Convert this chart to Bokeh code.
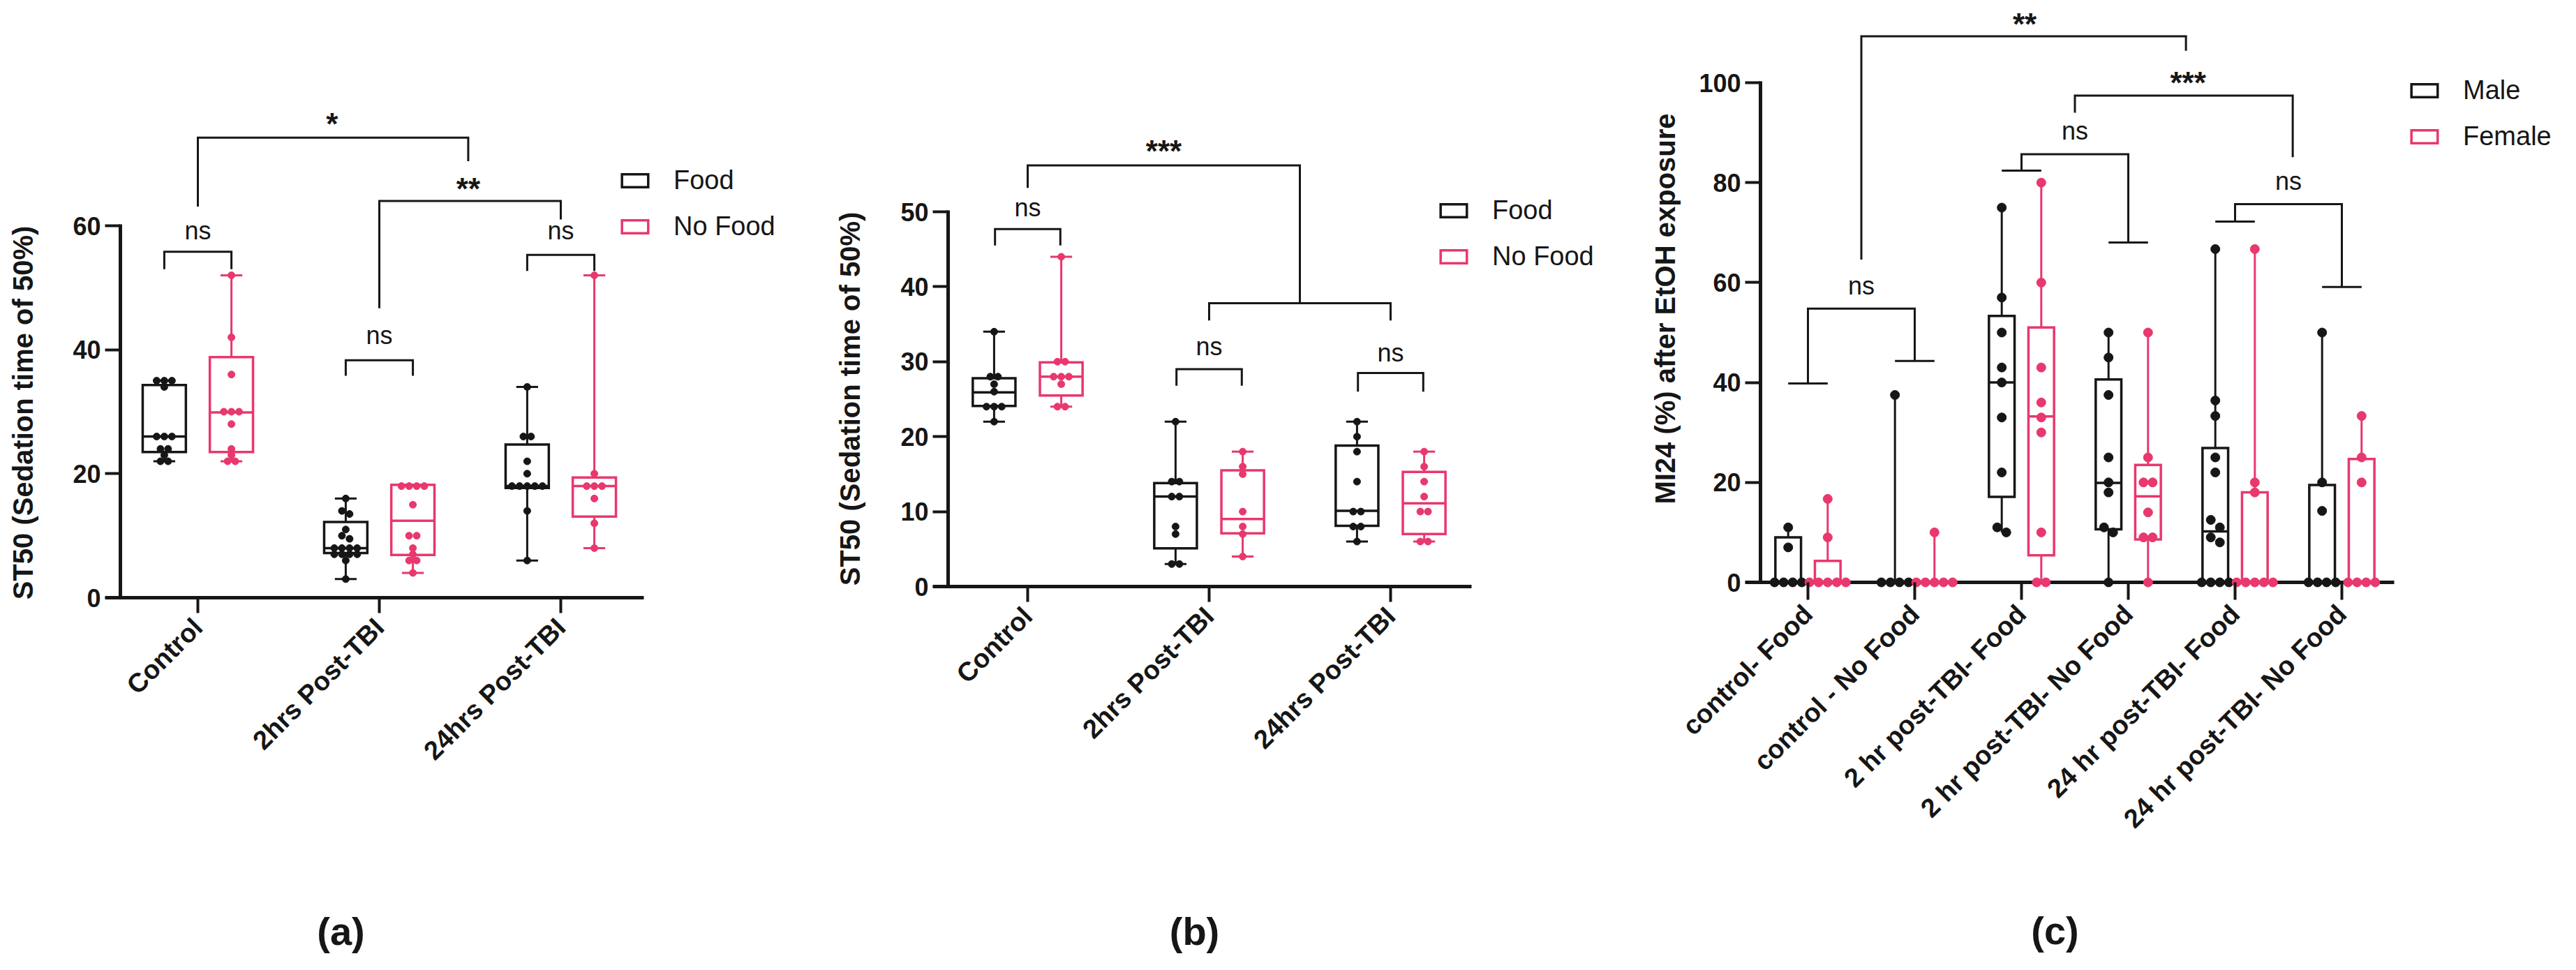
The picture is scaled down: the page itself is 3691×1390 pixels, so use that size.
import numpy as np
from math import pi
from bokeh.plotting import figure
from bokeh.layouts import row
from bokeh.models import FixedTicker, Label, Legend, LegendItem, Range1d, ColumnDataSource
from bokeh.core.properties import value
from bokeh.embed import file_html
from bokeh.resources import INLINE

FONT = "Liberation Sans"
BLACK = "#161616"
PINK = "#e8386d"
H = 1372
FT, FB = 8, 867   # common frame top / bottom (page px); Bokeh aligns the frames of a row

# ---------------- Panel (a) data ----------------
a_categories = ["Control", "2hrs Post-TBI", "24hrs Post-TBI"]
a_series = ["Food", "No Food"]
a_food_points = [
    [35, 35, 35, 34, 26, 26, 26, 24, 24, 23, 22, 22],
    [16, 14, 13.5, 11, 10, 9.5, 8, 8, 8, 8, 7, 7, 7, 7, 6, 3],
    [34, 26, 26, 22, 20, 18, 18, 18, 18, 18, 14, 6],
]
a_food_q1 = [23.5, 7.2, 17.7]
a_food_median = [26.0, 8.0, 18.0]
a_food_q3 = [34.3, 12.2, 24.7]
a_nofood_points = [
    [52, 42, 36, 30, 30, 30, 28, 24, 23, 22, 22],
    [18, 18, 18, 18, 15, 10, 10, 8, 7, 6, 6, 4],
    [52, 20, 18, 18, 18, 16, 12, 8],
]
a_nofood_q1 = [23.5, 6.9, 13.1]
a_nofood_median = [29.9, 12.4, 18.0]
a_nofood_q3 = [38.8, 18.2, 19.4]
a_yticks = [0, 20, 40, 60]

# ---------------- Panel (b) data ----------------
b_categories = ["Control", "2hrs Post-TBI", "24hrs Post-TBI"]
b_series = ["Food", "No Food"]
b_food_points = [
    [34, 28, 28, 27, 26, 24, 24, 24, 22],
    [22, 14, 14, 12, 12, 8, 7, 3, 3],
    [22, 20, 18, 14, 10, 10, 8, 8, 6],
]
b_food_q1 = [24.1, 5.1, 8.1]
b_food_median = [25.9, 12.0, 10.1]
b_food_q3 = [27.8, 13.8, 18.8]
b_nofood_points = [
    [44, 30, 30, 28, 28, 28, 27, 24, 24],
    [18, 16, 15, 10, 8, 7, 4],
    [18, 16, 14, 12, 10, 10, 6, 6],
]
b_nofood_q1 = [25.5, 7.1, 7.0]
b_nofood_median = [28.0, 9.0, 11.1]
b_nofood_q3 = [29.9, 15.5, 15.3]
b_yticks = [0, 10, 20, 30, 40, 50]

# ---------------- Panel (c) data ----------------
c_categories = ["control- Food", "control - No Food", "2 hr post-TBI- Food",
                "2 hr post-TBI- No Food", "24 hr post-TBI- Food", "24 hr post-TBI- No Food"]
c_series = ["Male", "Female"]
c_male_points = [
    [11, 7, 0, 0, 0, 0],
    [37.5, 0, 0, 0, 0],
    [75, 57, 50, 43, 40, 33, 22, 11, 10],
    [50, 45, 37.5, 25, 20, 18, 11, 10, 0],
    [66.7, 36.4, 33.3, 25, 22, 12.5, 11, 9, 8, 0, 0, 0, 0],
    [50, 20, 14.3, 0, 0, 0, 0],
]
c_male_q1 = [0, 0, 17.1, 10.6, 0, 0]
c_male_median = [0, 0, 40.0, 19.9, 10.2, 0]
c_male_q3 = [9.0, 0, 53.3, 40.6, 26.9, 19.5]
c_female_points = [
    [16.7, 9, 0, 0, 0, 0, 0],
    [10, 0, 0, 0, 0, 0],
    [80, 60, 43, 36, 33, 30, 10, 0, 0],
    [50, 25, 20, 20, 14, 9, 9, 0],
    [66.7, 20, 18, 0, 0, 0, 0, 0],
    [33.3, 25, 20, 0, 0, 0, 0],
]
c_female_q1 = [0, 0, 5.4, 8.6, 0, 0]
c_female_median = [0, 0, 33.2, 17.2, 0, 0]
c_female_q3 = [4.3, 0, 51.0, 23.5, 18.0, 24.7]
c_yticks = [0, 20, 40, 60, 80, 100]

# significance annotations: (x_left, y_left_end, x_right, y_right_end, y_top, caps)
a_brackets = [(-0.185, 53.0, 0.185, 53.0, 55.8, False), (0.815, 35.8, 1.185, 35.8, 38.3, False),
              (1.815, 52.7, 2.185, 52.7, 55.3, False), (1.0, 46.7, 2.0, 61.0, 64.0, False),
              (0.0, 63.1, 1.49, 70.4, 74.2, False)]
a_marks = [("ns", 0, 59.2), ("ns", 1, 42.3), ("ns", 2, 59.2), ("**", 1.49, 67.2), ("*", 0.74, 77.7)]
b_brackets = [(-0.18, 45.5, 0.18, 45.5, 47.7, False), (0.82, 26.8, 1.18, 26.8, 29.0, False),
              (1.82, 26.0, 2.18, 26.0, 28.5, False), (1.0, 35.5, 2.0, 35.5, 37.8, False),
              (0.0, 53.2, 1.5, 37.8, 56.2, False)]
b_marks = [("ns", 0, 50.6), ("ns", 1, 32.0), ("ns", 2, 31.2), ("***", 0.75, 59.1)]
c_brackets = [(0, 39.8, 1, 44.3, 54.8, True), (2, 82.4, 3, 68.0, 85.7, True),
              (4, 72.2, 5, 59.1, 75.7, True), (0.5, 64.6, 3.54, 106.4, 109.3, False),
              (2.5, 94.0, 4.54, 85.1, 97.4, False)]
c_marks = [("ns", 0.5, 59.3), ("ns", 2.5, 90.3), ("ns", 4.5, 80.3), ("**", 2.03, 113.3), ("***", 3.56, 101.6)]


def spread(points, center, dx, tol):
    xs, ys = [], []
    clusters = []
    for v in sorted(points, reverse=True):
        if clusters and abs(clusters[-1][-1] - v) <= tol:
            clusters[-1].append(v)
        else:
            clusters.append([v])
    for cl in clusters:
        n = len(cl)
        for k, v in enumerate(cl):
            xs.append(center + (k - (n - 1) / 2) * dx)
            ys.append(v)
    return xs, ys


def make_panel(cfg):
    sl, w, fr = cfg["sl"], cfg["w"], cfg["fr"]
    fl = cfg["yaxis_px"] - 22
    x0, kx, y0 = cfg["x0"], cfg["kx"], cfg["y0"]
    ky = (y0 - cfg["ytop_px"]) / cfg["yticks"][-1]
    p = figure(width=w, height=H, output_backend="svg", toolbar_location=None,
               x_range=Range1d((fl - x0) / kx, (fr - x0) / kx),
               y_range=Range1d((y0 - FB) / ky, (y0 - FT) / ky),
               min_border_left=fl - sl, min_border_right=sl + w - fr,
               min_border_top=FT - 8, min_border_bottom=H - (FB - 8))
    p.outline_line_color = None
    p.grid.visible = False
    p.background_fill_color = "white"
    p.border_fill_color = "white"

    ncat = len(cfg["cats"])
    yaxis_x = (cfg["yaxis_px"] - x0) / kx

    yax = p.yaxis[0]
    yax.ticker = FixedTicker(ticks=cfg["yticks"])
    yax.axis_line_color = None
    yax.major_tick_in = 22
    yax.major_tick_out = 0
    yax.major_tick_line_width = 4
    yax.major_tick_line_color = BLACK
    yax.minor_tick_line_color = None
    yax.major_label_text_font = FONT
    yax.major_label_text_font_size = "36px"
    yax.major_label_text_font_style = "bold"
    yax.major_label_text_color = BLACK
    yax.major_label_standoff = 6

    tin = FB - y0
    xax = p.xaxis[0]
    xax.ticker = FixedTicker(ticks=list(range(ncat)))
    xax.major_label_overrides = {i: c for i, c in enumerate(cfg["cats"])}
    xax.axis_line_color = None
    xax.major_tick_in = tin
    xax.major_tick_out = max(0, 22 - tin)
    xax.major_tick_line_width = 4
    xax.major_tick_line_color = BLACK
    xax.minor_tick_line_color = None
    xax.major_label_orientation = pi / 4
    xax.major_label_text_font = FONT
    xax.major_label_text_font_size = "38px"
    xax.major_label_text_font_style = "bold"
    xax.major_label_text_color = BLACK
    xax.major_label_standoff = cfg["xstand"]

    # axis lines (y axis stops at its last tick, x axis starts at the y tick ends)
    p.segment(x0=[yaxis_x], y0=[-2.0 / ky], x1=[yaxis_x], y1=[cfg["yticks"][-1] + 2.0 / ky],
              line_color=BLACK, line_width=5)
    p.segment(x0=[(fl - x0) / kx], y0=[0], x1=[(cfg["xend_px"] - x0) / kx], y1=[0],
              line_color=BLACK, line_width=5)

    cats = np.arange(ncat)
    off, bw = cfg["offset"], cfg["boxw"]
    renderers = []
    for s, (pts, q1, med, q3, col) in enumerate(cfg["series_data"]):
        centers = cats + (-off if s == 0 else off)
        lo = [min(v) for v in pts]
        hi = [max(v) for v in pts]
        src = ColumnDataSource(dict(left=centers - bw / 2, right=centers + bw / 2, q1=q1, q3=q3,
                                    med=med, c=centers, lo=lo, hi=hi,
                                    cl=centers - cfg["capw"] / 2, cr=centers + cfg["capw"] / 2))
        p.segment(x0="c", y0="q3", x1="c", y1="hi", source=src, line_color=col, line_width=3)
        p.segment(x0="c", y0="lo", x1="c", y1="q1", source=src, line_color=col, line_width=3)
        if cfg["capw"] > 0:
            p.segment(x0="cl", y0="hi", x1="cr", y1="hi", source=src, line_color=col, line_width=3)
            p.segment(x0="cl", y0="lo", x1="cr", y1="lo", source=src, line_color=col, line_width=3)
        r = p.quad(left="left", right="right", bottom="q1", top="q3", source=src,
                   fill_color=None, line_color=col, line_width=3.5, line_join="miter")
        p.segment(x0="left", y0="med", x1="right", y1="med", source=src, line_color=col, line_width=3.5)
        renderers.append(r)
        xs, ys = [], []
        for i, vals in enumerate(pts):
            a, b = spread(vals, centers[i], cfg["dx"], cfg["tol"])
            xs += a
            ys += b
        p.scatter(x=xs, y=ys, size=cfg["dot"], marker="circle", fill_color=col, line_color=col)

    # brackets
    bx, by, capx0, capx1, capy = [], [], [], [], []
    for (xl, yl, xr, yr, top, caps) in cfg["brackets"]:
        bx.append([xl, xl, xr, xr])
        by.append([yl, top, top, yr])
        if caps:
            for (xx, yy) in ((xl, yl), (xr, yr)):
                capx0.append(xx - off)
                capx1.append(xx + off)
                capy.append(yy)
    p.multi_line(xs=bx, ys=by, line_color=BLACK, line_width=3, line_join="miter")
    if capx0:
        p.segment(x0=capx0, y0=capy, x1=capx1, y1=capy, line_color=BLACK, line_width=3)

    ns = [m for m in cfg["marks"] if m[0] == "ns"]
    st = [m for m in cfg["marks"] if m[0] != "ns"]
    p.text(x=[m[1] for m in ns], y=[m[2] for m in ns], text=[m[0] for m in ns],
           text_font=value(FONT), text_font_size="36px", text_align="center",
           text_baseline="middle", text_color=BLACK)
    p.text(x=[m[1] for m in st], y=[m[2] for m in st], text=[m[0] for m in st],
           text_font=value(FONT), text_font_size="44px", text_font_style="bold",
           text_align="center", text_baseline="middle", text_color=BLACK, y_offset=11)

    # y title and panel letter: labels in side panels (data units, not clipped to the frame)
    tx, ty = cfg["ytitle_px"]
    p.add_layout(Label(x=(tx - x0) / kx, y=(y0 - ty) / ky,
                       text=cfg["ytitle"], angle=pi / 2, text_align="center", text_baseline="middle",
                       text_font=FONT, text_font_size="40px", text_font_style="bold",
                       text_color=BLACK), "left")
    lx, ly = cfg["letter_px"]
    p.add_layout(Label(x=(lx - x0) / kx, y=(y0 - ly) / ky,
                       text=cfg["letter"], text_align="center", text_baseline="middle",
                       text_font=FONT, text_font_size="56px", text_font_style="bold",
                       text_color=BLACK), "below")

    gx, gy = cfg["legend_px"]
    legend = Legend(items=[LegendItem(label=cfg["series"][0], renderers=[renderers[0]]),
                           LegendItem(label=cfg["series"][1], renderers=[renderers[1]])],
                    location=(gx - fl, FB - (gy + 110)), orientation="vertical",
                    glyph_width=47, glyph_height=23, label_height=44, spacing=22,
                    label_standoff=32, padding=0, margin=0, border_line_color=None,
                    background_fill_alpha=0, label_text_font=FONT, label_text_font_size="38px",
                    label_text_color=BLACK)
    p.add_layout(legend)
    return p


cfg_a = dict(sl=8, w=1182, fr=1170, x0=291, kx=260, y0=864, ytop_px=331,
             yaxis_px=180, xend_px=930, cats=a_categories, series=a_series, yticks=a_yticks,
             series_data=[(a_food_points, a_food_q1, a_food_median, a_food_q3, BLACK),
                          (a_nofood_points, a_nofood_q1, a_nofood_median, a_nofood_q3, PINK)],
             offset=0.185, boxw=0.238, capw=0.12, dx=0.042, tol=0.6, dot=10, xstand=14,
             brackets=a_brackets, marks=a_marks, ytitle="ST50 (Sedation time of 50%)",
             ytitle_px=(40, 599), letter="(a)", letter_px=(496, 1342), legend_px=(894, 244))
cfg_b = dict(sl=1190, w=1140, fr=2300, x0=1480, kx=260, y0=848, ytop_px=311,
             yaxis_px=1366, xend_px=2116, cats=b_categories, series=b_series, yticks=b_yticks,
             series_data=[(b_food_points, b_food_q1, b_food_median, b_food_q3, BLACK),
                          (b_nofood_points, b_nofood_q1, b_nofood_median, b_nofood_q3, PINK)],
             offset=0.185, boxw=0.235, capw=0.12, dx=0.042, tol=0.6, dot=10, xstand=14,
             brackets=b_brackets, marks=b_marks, ytitle="ST50 (Sedation time of 50%)",
             ytitle_px=(1225, 579), letter="(b)", letter_px=(1719, 1342), legend_px=(2067, 287))
cfg_c = dict(sl=2330, w=1353, fr=3680, x0=2598, kx=153, y0=842, ytop_px=126,
             yaxis_px=2530, xend_px=3438, cats=c_categories, series=c_series, yticks=c_yticks,
             series_data=[(c_male_points, c_male_q1, c_male_median, c_male_q3, BLACK),
                          (c_female_points, c_female_q1, c_female_median, c_female_q3, PINK)],
             offset=0.185, boxw=0.24, capw=0, dx=0.085, tol=1.5, dot=13, xstand=14,
             brackets=c_brackets, marks=c_marks, ytitle="MI24 (%) after EtOH exposure",
             ytitle_px=(2393, 450), letter="(c)", letter_px=(2952, 1341), legend_px=(3458, 115))

layout = row(make_panel(cfg_a), make_panel(cfg_b), make_panel(cfg_c))
open("out.html", "w").write(file_html(layout, INLINE))
